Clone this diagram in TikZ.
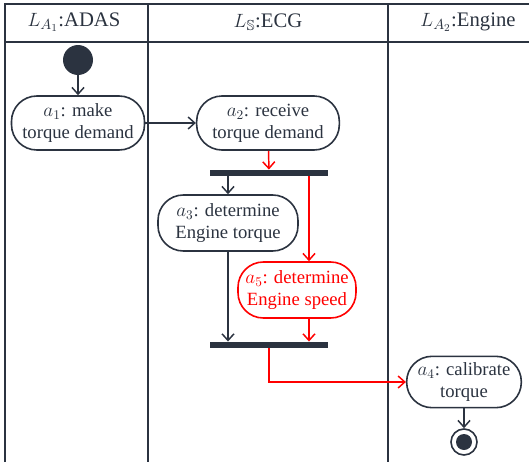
\documentclass[tikz,border=0pt]{standalone}
\usepackage{amsmath}
\usepackage{amsfonts}
\usepackage{fontspec}
\setmainfont{Liberation Serif}
\usetikzlibrary{arrows.meta}

\definecolor{ink}{HTML}{2B3340}

\tikzset{
	lane/.style={draw=ink, line width=1.3pt},
	head/.style={text=ink, font=\fontsize{15.5}{18}\selectfont},
	act/.style={draw=ink, line width=1.2pt, rounded corners=19pt, align=center, inner sep=2pt, text=ink},
	redact/.style={act, draw=red, text=red},
	bar/.style={fill=ink, draw=none, minimum width=88.5pt, minimum height=4.8pt, inner sep=0pt},
	flow/.style={draw=ink, line width=1.1pt, -{Straight Barb[length=5pt,width=9pt,line width=1.1pt]}},
	redflow/.style={flow, draw=red}
}

\begin{document}
\begin{tikzpicture}[x=0.75pt, y=-0.75pt, font=\fontsize{14}{16.5}\selectfont]
	
	\useasboundingbox (0,0) rectangle (529,468);
	
	% swimlanes
	\draw[lane] (5,462) -- (5,4) -- (530,4);
	\draw[lane] (5,42) -- (530,42);
	\draw[lane] (148,4) -- (148,462);
	\draw[lane] (388,4) -- (388,462);
	
	\node[head] (h1) at (74, 22)   {$L_{A_1}$:ADAS};
	\node[head] (h2) at (268, 22)  {$L_{\mathbb{S}}$:ECG};
	\node[head] (h3) at (468, 22)  {$L_{A_2}$:Engine};
	
	% actions
	\node[shape=circle, fill=ink, minimum size=22.5pt, inner sep=0pt] (start) at (78, 60) {};
	\node[act, minimum width=99.75pt, minimum height=40.5pt] (a1) at (78, 123)   {$a_1$: make\\torque demand};
	\node[act, minimum width=107pt, minimum height=40.5pt] (a2) at (268, 123)   {$a_2$: receive\\torque demand};
	\node[bar] (fork) at (269, 173) {};
	\node[act, minimum width=105pt, minimum height=42pt] (a3) at (228, 223)   {$a_3$: determine\\Engine torque};
	\node[redact, minimum width=88.5pt, minimum height=42pt] (a5) at (297, 290)   {$a_5$: determine\\Engine speed};
	\node[bar] (join) at (269, 345) {};
	\node[act, minimum width=86pt, minimum height=38.5pt] (a4) at (464, 382)   {$a_4$: calibrate\\torque};
	\node[shape=circle, draw=ink, line width=1.2pt, minimum size=19.5pt, inner sep=0pt] (stop) at (464, 442) {};
	\node[shape=circle, fill=ink, minimum size=12pt, inner sep=0pt] (stopdot) at (stop) {};
	
	\coordinate (rx) at (309, 0);
	
	% flows
	\draw[flow] (start) -- (a1);
	\draw[flow] (a1) -- (a2);
	\draw[redflow] (a2) -- (fork);
	\draw[flow] (fork.south -| a3) -- (a3.north);
	\draw[redflow] (fork.south -| rx) -- (a5.north -| rx);
	\draw[flow] (a3.south) -- (join.north -| a3);
	\draw[redflow] (a5.south -| rx) -- (join.north -| rx);
	\draw[redflow] (join.south) |- (a4.west);
	\draw[flow] (a4) -- (stop);
	\end{tikzpicture}
\end{document}
